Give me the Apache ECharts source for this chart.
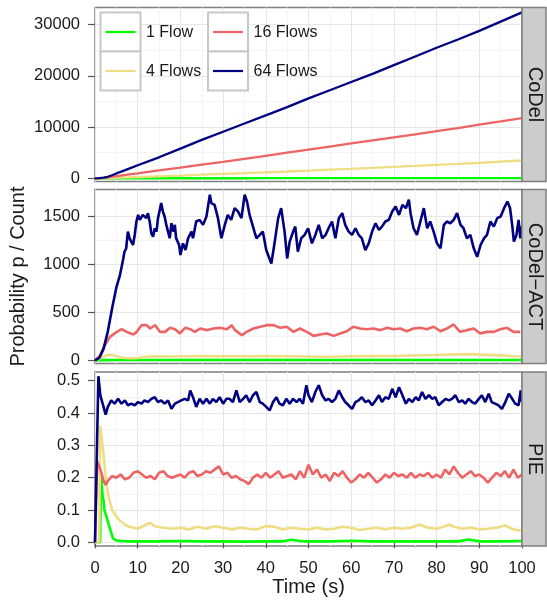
<!DOCTYPE html>
<html>
<head>
<meta charset="utf-8">
<script src="https://cdn.jsdelivr.net/npm/echarts@6/dist/echarts.min.js"></script>
<style>
html, body { margin: 0; padding: 0; background: #fff; }
#chart { width: 547px; height: 600px; }
</style>
</head>
<body>
<div id="chart"></div>
<script>
// ---- data ----
var flowNames = ['1 Flow', '4 Flows', '16 Flows', '64 Flows'];
var panelNames = ['CoDel', 'CoDel\u2212ACT', 'PIE'];

var xTicks = [0, 10, 20, 30, 40, 50, 60, 70, 80, 90, 100];
var codelTicks = [0, 10000, 20000, 30000];
var actTicks = [0, 500, 1000, 1500];
var pieTicks = [0, 0.1, 0.2, 0.3, 0.4, 0.5];

// CoDel: cumulative drop count
var codelT = [0,1,2,3,4,5,6,8,10,15,20,25,30,35,40,45,50,55,60,65,70,75,80,85,90,95,100];
var codel1 = [0,0,0,1,1,1,1,2,3,5,7,9,11,13,15,17,20,22,25,27,30,33,36,39,42,46,50];
var codel4 = [0,5,20,40,70,100,130,190,250,390,540,700,850,1000,1170,1330,1500,1680,1860,2040,2230,2420,2620,2820,3030,3250,3480];
var codel16 = [0,20,100,200,320,430,540,760,980,1550,2100,2650,3200,3800,4400,5000,5600,6200,6800,7400,8000,8600,9200,9800,10500,11100,11750];
var codel64 = [0,20,120,300,600,950,1250,1900,2550,4100,5800,7500,9100,10700,12300,13900,15600,17200,18800,20400,22100,23800,25500,27100,28800,30600,32400];

// CoDel-ACT: count
var act1T = [0,2,5,10,20,30,40,50,60,70,80,90,100];
var act1 = [0,2,3,3,3,3,3,3,3,3,3,3,3];
var act4T = [0,1,2,3,4,5,6,7,8,9,10,11,12,14,16,20,25,30,35,40,45,50,55,60,65,70,75,80,85,88,90,95,98,100];
var act4 = [0,15,40,55,55,45,30,24,22,22,24,30,38,42,40,42,45,43,42,45,43,40,38,42,44,45,50,55,62,65,60,52,42,40];
var act16T = [0,1.2,2.3,3.5,5.1,6.25,7.4,9,9.8,10.9,12.1,12.9,14.1,15.2,16.4,17.6,18.75,19.9,21.1,22.3,23.4,24.6,26.2,27.7,29.3,30.9,32,32.8,34.4,35.5,37.1,38.7,40.2,41.8,43.4,44.9,46.5,48,49.6,51.2,52.7,54.3,55.9,57.4,59,60.5,62.1,63.7,65.2,66.8,68.4,69.9,71.5,73,74.6,76.2,77.7,79.3,80.9,82.4,84,85.5,87.1,88.7,90.2,91.8,93.4,94.9,96.5,98,99.6];
var act16 = [0,52,157,245,297,325,297,269,297,367,367,332,367,297,297,339,325,280,339,325,297,332,315,332,339,325,367,315,262,297,332,350,367,367,339,350,297,332,297,255,269,280,255,280,304,350,332,325,332,315,339,325,332,304,332,339,325,350,304,332,374,297,315,332,280,297,297,325,339,297,297];
var act64T = [0,1,2,3,4,5,5.8,6.55,6.9,7.3,7.7,8.1,8.5,8.9,9.3,9.7,10.1,10.5,11.2,12,12.4,12.8,13.2,13.6,14,14.4,14.75,15.5,15.9,16.3,16.7,17.5,17.9,18.3,18.7,19,19.7,20,20.6,21.2,21.8,22.6,22.95,23.7,24.5,25.3,26.1,26.9,27.25,28,28.8,29.6,30.4,31.1,31.9,32.7,33.5,34.3,35.05,35.6,36.2,37,37.8,38.6,39.3,40.1,41.3,42.1,42.9,43.6,44.4,45,45.6,46.4,46.9,47.5,48.3,49.1,49.9,50.8,51.6,52.4,53.2,54,54.7,55.5,56.3,57.1,57.9,58.6,59.4,60.2,61,61.75,62.5,63.3,64.1,64.9,65.7,66.5,67.2,68,68.8,69.6,70.4,71.2,72,72.8,73.5,73.9,74.6,75.4,76.2,77,77.8,78.5,79.3,80.1,80.9,81.7,82.4,83.2,84,84.8,85.6,86.3,87.1,87.9,88.7,89.5,90.3,91.1,91.8,92.6,93.4,94.2,95,95.8,96.6,97.2,97.7,98.1,98.7,99.2,99.6,100];
var act64 = [0,25,120,300,540,760,880,1045,1133,1168,1343,1273,1273,1203,1308,1448,1517,1465,1517,1483,1535,1448,1325,1290,1378,1343,1483,1640,1552,1500,1413,1273,1430,1343,1413,1273,1203,1098,1220,1150,1273,1343,1273,1448,1465,1413,1500,1727,1640,1622,1483,1273,1413,1517,1465,1587,1552,1483,1727,1657,1517,1395,1273,1308,1343,1150,1010,1238,1483,1587,1343,1063,1238,1343,1395,1133,1273,1308,1378,1220,1308,1413,1273,1308,1378,1448,1273,1483,1535,1413,1343,1308,1378,1308,1273,1150,1220,1343,1430,1360,1395,1448,1465,1552,1605,1517,1622,1587,1675,1535,1378,1308,1448,1587,1378,1448,1343,1220,1168,1413,1448,1430,1465,1535,1413,1378,1273,1308,1168,1080,1203,1273,1308,1448,1395,1483,1500,1587,1657,1587,1413,1238,1308,1465,1273,1400];

// PIE: drop probability
var pie1T = [0,1.2,1.4,1.8,2,2.2,3,3.8,4.2,5,6,8,10,15,20,25,30,35,40,44,46,48,50,55,60,65,70,75,80,85,87.5,90,95,100];
var pie1 = [0,0,0.21,0.14,0.13,0.1,0.065,0.03,0.012,0.006,0.004,0.003,0.003,0.003,0.004,0.003,0.003,0.002,0.003,0.003,0.008,0.004,0.003,0.003,0.005,0.003,0.003,0.003,0.003,0.003,0.009,0.003,0.003,0.004];
var pie4T = [0,1,1.2,1.5,2,2.5,3,4,5,6,7,8,10,12,13,14,16,18,20,22,24,26,28,30,32,34,36,38,40,42,44,46,48,50,52,54,56,58,60,62,64,66,68,70,72,74,76,78,80,82,83,84,86,88,90,92,94,96,98,100];
var pie4 = [0,0,0.36,0.33,0.27,0.2,0.15,0.1,0.08,0.065,0.055,0.048,0.042,0.055,0.06,0.05,0.045,0.042,0.045,0.04,0.048,0.042,0.05,0.045,0.04,0.045,0.042,0.04,0.05,0.048,0.04,0.045,0.042,0.04,0.045,0.04,0.042,0.048,0.045,0.038,0.042,0.045,0.04,0.045,0.042,0.045,0.055,0.045,0.042,0.05,0.055,0.048,0.042,0.045,0.04,0.042,0.045,0.052,0.04,0.035];
var pie16T = [0,0.3,0.5,1,1.5,2,2.5,3,4,5,6,7,8,9,10,11,12,13,14,15,16,17,18,19,20,21,22,23,24,25,26,27,28,29,30,31,32,33,34,35,36,37,38,39,40,41,42,43,44,45,46,47,48,49,50,51,52,53,54,55,56,57,58,59,60,61,62,63,64,65,66,67,68,69,70,71,72,73,74,75,76,77,78,79,80,81,82,83,84,85,86,87,88,89,90,91,92,93,94,95,96,97,98,99,100];
var pie16 = [0,0,0.25,0.235,0.215,0.19,0.178,0.19,0.205,0.2,0.21,0.195,0.2,0.215,0.22,0.21,0.2,0.205,0.195,0.215,0.22,0.205,0.2,0.205,0.21,0.2,0.215,0.22,0.205,0.21,0.22,0.215,0.225,0.235,0.21,0.215,0.2,0.205,0.195,0.19,0.18,0.2,0.21,0.2,0.215,0.2,0.21,0.22,0.2,0.205,0.21,0.195,0.22,0.2,0.24,0.21,0.225,0.2,0.21,0.19,0.215,0.205,0.22,0.2,0.185,0.195,0.21,0.2,0.215,0.2,0.185,0.195,0.21,0.2,0.215,0.205,0.21,0.2,0.215,0.2,0.21,0.205,0.215,0.2,0.21,0.2,0.225,0.21,0.235,0.215,0.2,0.21,0.22,0.205,0.21,0.2,0.185,0.2,0.215,0.205,0.22,0.2,0.225,0.2,0.21];
var pie64T = [0,0.2,0.8,1.25,1.9,2.5,3,3.8,4.6,5.4,6.2,7,7.7,8.5,9.3,10.1,10.9,11.6,12.4,13.2,14,14.75,15.5,16.3,17.1,17.9,18.7,19.4,20.2,21,21.8,22.3,22.95,23.7,24.5,25.3,26.1,26.9,27.6,28.4,29.2,30,30.8,31.5,32.3,33.1,33.9,34.7,35.4,36.2,37,37.8,38.6,39.3,40.1,40.9,41.7,42.5,43.2,44,44.8,45.6,46.4,47.2,47.9,48.7,49.5,50,50.8,51.6,52.4,53.2,54,54.7,55.5,56.3,57.1,57.9,58.6,59.4,60.2,61,61.75,62.5,63.3,64.1,64.9,65.7,66.5,67.2,68,68.8,69.6,70.4,71.2,72,72.8,73.5,74.3,75.1,75.8,76.6,77.4,78.2,79,79.7,80.5,81.3,82.1,82.9,83.6,84.4,85.2,86,86.7,87.5,88.3,89,89.9,90.6,91.4,92.2,92.9,93.7,94.5,95.3,96.1,96.9,97.7,98.4,99.2,99.7,100];
var pie64 = [0,0,0.514,0.455,0.424,0.395,0.419,0.439,0.429,0.444,0.429,0.439,0.424,0.429,0.424,0.434,0.429,0.439,0.434,0.444,0.449,0.434,0.439,0.429,0.439,0.413,0.429,0.434,0.439,0.444,0.439,0.470,0.449,0.419,0.444,0.429,0.444,0.429,0.444,0.434,0.449,0.429,0.444,0.444,0.434,0.470,0.434,0.444,0.455,0.434,0.455,0.465,0.434,0.429,0.419,0.408,0.434,0.449,0.429,0.424,0.444,0.429,0.444,0.434,0.444,0.429,0.486,0.455,0.434,0.465,0.486,0.455,0.439,0.444,0.434,0.444,0.470,0.449,0.434,0.424,0.413,0.434,0.439,0.449,0.434,0.439,0.424,0.439,0.455,0.434,0.449,0.444,0.475,0.449,0.480,0.455,0.429,0.444,0.434,0.449,0.439,0.465,0.444,0.455,0.444,0.449,0.424,0.434,0.444,0.439,0.444,0.455,0.434,0.439,0.429,0.444,0.434,0.429,0.444,0.455,0.434,0.460,0.434,0.429,0.424,0.413,0.434,0.460,0.444,0.429,0.424,0.470,0.435];

// ---- layout ----
var font = 'Liberation Sans, Arial, Helvetica, sans-serif';
var colors = ['#00ff00', '#eedd82', '#ee6363', '#000080'];
var left = 95, width = 427, height = 174;
var tops = [7.5, 189.5, 372];
var yRanges = [[-625, 33360], [-33, 1782], [-0.0114, 0.527]];
var yTicks = [codelTicks, actTicks, pieTicks];
var lineWidths = [2.3, 2.6, 2.6];
var panelSeries = [
    [[codelT, codel1], [codelT, codel4], [codelT, codel16], [codelT, codel64]],
    [[act1T, act1], [act4T, act4], [act16T, act16], [act64T, act64]],
    [[pie1T, pie1], [pie4T, pie4], [pie16T, pie16], [pie64T, pie64]]
];

function pairs(t, v) {
    return t.map(function (x, i) { return [x, v[i]]; });
}
function midpoints(ticks) {
    var out = [];
    for (var i = 1; i < ticks.length; i++) out.push((ticks[i - 1] + ticks[i]) / 2);
    return out;
}

var grids = [], xAxes = [], yAxes = [], series = [], graphics = [];

for (var p = 0; p < 3; p++) {
    var last = p === 2;
    grids.push({
        left: left, width: width, top: tops[p], height: height,
        show: true, backgroundColor: '#fff', borderColor: '#7f7f7f', borderWidth: 1.5
    });
    xAxes.push({
        type: 'value', gridIndex: p, min: 0, max: 100, interval: 10,
        axisLine: {show: false},
        axisTick: {show: last, length: 6, lineStyle: {color: '#555', width: 1.2}},
        axisLabel: {show: last, fontSize: 16.5, color: '#1a1a1a', margin: 14, fontFamily: font},
        splitLine: {show: true, lineStyle: {color: '#e6e6e6', width: 1}},
        minorTick: {show: false, splitNumber: 2},
        minorSplitLine: {show: true, lineStyle: {color: '#f4f4f4', width: 1}},
        name: last ? 'Time (s)' : '',
        nameLocation: 'middle', nameGap: 31,
        nameTextStyle: {fontSize: 20, color: '#1a1a1a', fontFamily: font}
    });
    var fmt = p === 2 ? function (v) { return v.toFixed(1); } : function (v) { return String(v); };
    yAxes.push({
        type: 'value', gridIndex: p, min: yRanges[p][0], max: yRanges[p][1],
        axisLine: {show: false},
        axisTick: {show: true, length: 7, customValues: yTicks[p], lineStyle: {color: '#555', width: 1.2}},
        axisLabel: {customValues: yTicks[p], formatter: fmt, fontSize: 16.5, color: '#1a1a1a', margin: 15, fontFamily: font},
        splitLine: {show: false},
        name: p === 1 ? 'Probability p / Count' : '',
        nameLocation: 'middle', nameGap: 67,
        nameTextStyle: {fontSize: 20, color: '#1a1a1a', fontFamily: font}
    });

    // horizontal grid lines (major + minor) drawn on the y scale, kept under the data
    series.push({
        type: 'line', xAxisIndex: p, yAxisIndex: p, data: [], silent: true, z: 1,
        markLine: {
            z: 1, silent: true, symbol: 'none', animation: false, label: {show: false},
            data: midpoints(yTicks[p]).map(function (v) {
                return {yAxis: v, lineStyle: {color: '#f4f4f4', width: 1, type: 'solid'}};
            }).concat(yTicks[p].map(function (v) {
                return {yAxis: v, lineStyle: {color: '#e6e6e6', width: 1, type: 'solid'}};
            }))
        }
    });

    for (var s = 0; s < 4; s++) {
        series.push({
            name: flowNames[s], type: 'line', xAxisIndex: p, yAxisIndex: p,
            data: pairs(panelSeries[p][s][0], panelSeries[p][s][1]),
            showSymbol: false, symbol: 'none', z: 3 + s,
            lineStyle: {color: colors[s], width: lineWidths[p]},
            itemStyle: {color: colors[s]}
        });
    }

    // facet strip on the right
    graphics.push({
        type: 'rect', z: 10,
        shape: {x: left + width, y: tops[p], width: 24, height: height},
        style: {fill: '#cccccc', stroke: '#7f7f7f', lineWidth: 1.5}
    });
    graphics.push({
        type: 'text', z: 11, x: left + width + 13, y: tops[p] + height / 2, rotation: -Math.PI / 2,
        style: {text: panelNames[p], fill: '#1a1a1a', font: '20px ' + font, align: 'center', verticalAlign: 'middle'}
    });
}

// legend inside the top panel (two columns of boxed keys)
var legendPos = [[100.5, 12.5], [100.5, 51.5], [208, 12.5], [208, 51.5]];
for (var k = 0; k < 4; k++) {
    var lx = legendPos[k][0], ly = legendPos[k][1];
    graphics.push({
        type: 'rect', z: 20,
        shape: {x: lx, y: ly, width: 40, height: 39},
        style: {fill: '#fff', stroke: '#c8c8c8', lineWidth: 2}
    });
    graphics.push({
        type: 'line', z: 21,
        shape: {x1: lx + 5, y1: ly + 19.5, x2: lx + 35, y2: ly + 19.5},
        style: {stroke: colors[k], lineWidth: 2.2}
    });
    graphics.push({
        type: 'text', z: 21, x: lx + 45.5, y: ly + 20,
        style: {text: flowNames[k], fill: '#1a1a1a', font: '16px ' + font, verticalAlign: 'middle'}
    });
}

var chart = echarts.init(document.getElementById('chart'));
chart.setOption({
    animation: false,
    textStyle: {fontFamily: font},
    grid: grids,
    xAxis: xAxes,
    yAxis: yAxes,
    series: series,
    graphic: graphics
});
</script>
</body>
</html>
